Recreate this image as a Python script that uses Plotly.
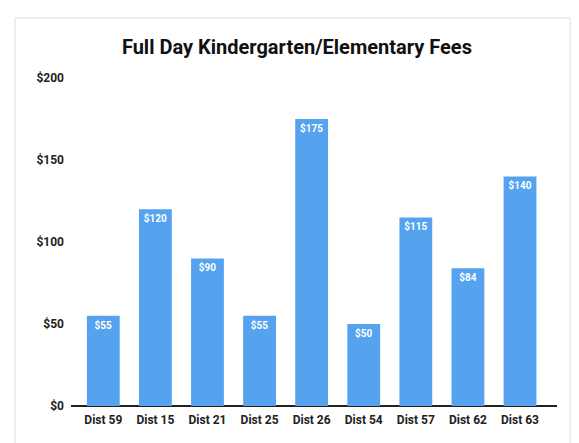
import plotly.graph_objects as go

districts = ["Dist 59", "Dist 15", "Dist 21", "Dist 25", "Dist 26", "Dist 54", "Dist 57", "Dist 62", "Dist 63"]
fees = [55, 120, 90, 55, 175, 50, 115, 84, 140]
fee_labels = ["$55", "$120", "$90", "$55", "$175", "$50", "$115", "$84", "$140"]
y_ticks = [0, 50, 100, 150, 200]
y_tick_labels = ["$0", "$50", "$100", "$150", "$200"]

fig = go.Figure(
    go.Bar(
        x=districts,
        y=fees,
        text=fee_labels,
        textposition="inside",
        insidetextanchor="end",
        textangle=0,
        textfont=dict(family="Roboto", size=10, color="white", weight="bold"),
        marker=dict(color="#55a2ee", line=dict(width=0)),
        cliponaxis=False,
    )
)

# page has an 8px body margin, so the figure is sized/offset to compensate
fig.update_layout(
    width=571,
    height=435,
    margin=dict(l=63, r=22, t=70, b=37),
    paper_bgcolor="white",
    plot_bgcolor="white",
    bargap=0.37,
    showlegend=False,
    title=dict(
        text="Full Day Kindergarten/Elementary Fees",
        x=0.506,
        xref="container",
        xanchor="center",
        y=0.910,
        yref="container",
        yanchor="middle",
        font=dict(family="Roboto", size=20, color="#111", weight="bold"),
    ),
    xaxis=dict(
        range=[-0.62, 8.71],
        showgrid=False,
        showline=False,
        ticks="",
        ticklabelstandoff=5,
        tickfont=dict(family="Roboto", size=12, color="#222", weight="bold"),
    ),
    yaxis=dict(
        range=[0, 200],
        tickvals=y_ticks,
        ticktext=y_tick_labels,
        showgrid=False,
        showline=False,
        ticks="",
        ticklabelstandoff=6,
        zeroline=True,
        zerolinecolor="#222",
        zerolinewidth=2,
        tickfont=dict(family="Roboto", size=12, color="#222", weight="bold"),
    ),
    shapes=[
        dict(
            type="rect",
            xref="paper",
            yref="paper",
            x0=-0.115,
            x1=1.027,
            y0=-0.13,
            y1=1.183,
            line=dict(color="#dddddd", width=1),
            layer="below",
        )
    ],
)

fig.write_html("out.html")
